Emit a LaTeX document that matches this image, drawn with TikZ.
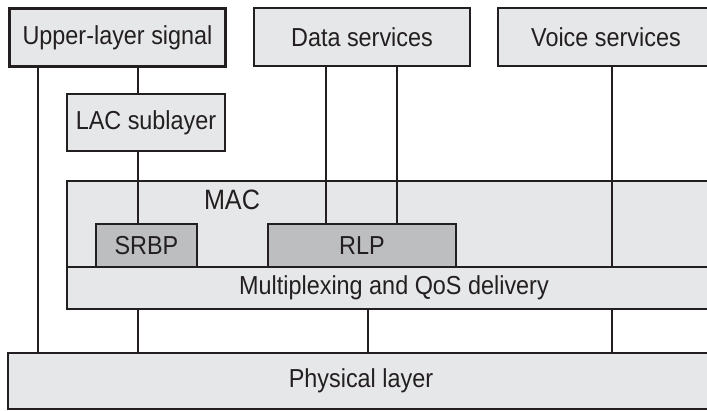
\documentclass[tikz,border=0pt]{standalone}
\usepackage{fontspec}
\setsansfont[FakeStretch=0.9]{Liberation Sans}
\definecolor{boxfill}{HTML}{E6E7E8}
\definecolor{subfill}{HTML}{BDBEC0}
\definecolor{ink}{HTML}{231F20}
\begin{document}
\begin{tikzpicture}[x=1pt,y=-1pt,
  every node/.style={font=\sffamily\fontsize{26}{29}\selectfont, text=ink, inner sep=0pt},
  layerbox/.style={draw=ink, line width=2pt, fill=boxfill, anchor=north west},
  subbox/.style={draw=ink, line width=2pt, fill=subfill, anchor=north west},
  link/.style={draw=ink, line width=2pt}]
\useasboundingbox (0,0) rectangle (707,410);
\clip (0,0) rectangle (707,410);

% top row
\node[layerbox, line width=3pt, minimum width=216pt, minimum height=58pt] (ups) at (8,7) {Upper-layer signal};
\node[layerbox, minimum width=216pt, minimum height=58pt] (data) at (253,7) {Data services};
\node[layerbox, minimum width=216pt, minimum height=58pt] (voice) at (497,7) {Voice services};

% LAC
\node[layerbox, minimum width=158pt, minimum height=57pt] (lac) at (66,93) {LAC sublayer};

% MAC block
\node[layerbox, minimum width=660pt, minimum height=86pt] (mac) at (66,180) {};
\node[font=\sffamily\fontsize{28}{31}\selectfont] (maclbl) at (232,200) {MAC};
\node[layerbox, minimum width=654pt, minimum height=42pt] (mux) at (66,266) {Multiplexing and QoS delivery};
\node[subbox, minimum width=101pt, minimum height=43pt] (srbp) at (95,223) {SRBP};
\node[subbox, minimum width=188pt, minimum height=43pt] (rlp) at (267,223) {RLP};

% physical layer
\node[layerbox, minimum width=706pt, minimum height=56pt] (phys) at (7,352) {Physical layer};

% vertical positions of the connectors
\coordinate (xa) at (38,0);
\coordinate (xb) at (138,0);
\coordinate (xc) at (326,0);
\coordinate (xd) at (397,0);
\coordinate (xe) at (368,0);
\coordinate (xf) at (612,0);

\draw[link] (xa |- ups.south) -- (xa |- phys.north);
\draw[link] (xb |- ups.south) -- (xb |- lac.north);
\draw[link] (xb |- lac.south) -- (xb |- srbp.north);
\draw[link] (xc |- data.south) -- (xc |- rlp.north);
\draw[link] (xd |- data.south) -- (xd |- rlp.north);
\draw[link] (xf |- voice.south) -- (xf |- mux.north);
\draw[link] (xb |- mux.south) -- (xb |- phys.north);
\draw[link] (xe |- mux.south) -- (xe |- phys.north);
\draw[link] (xf |- mux.south) -- (xf |- phys.north);
\end{tikzpicture}
\end{document}
